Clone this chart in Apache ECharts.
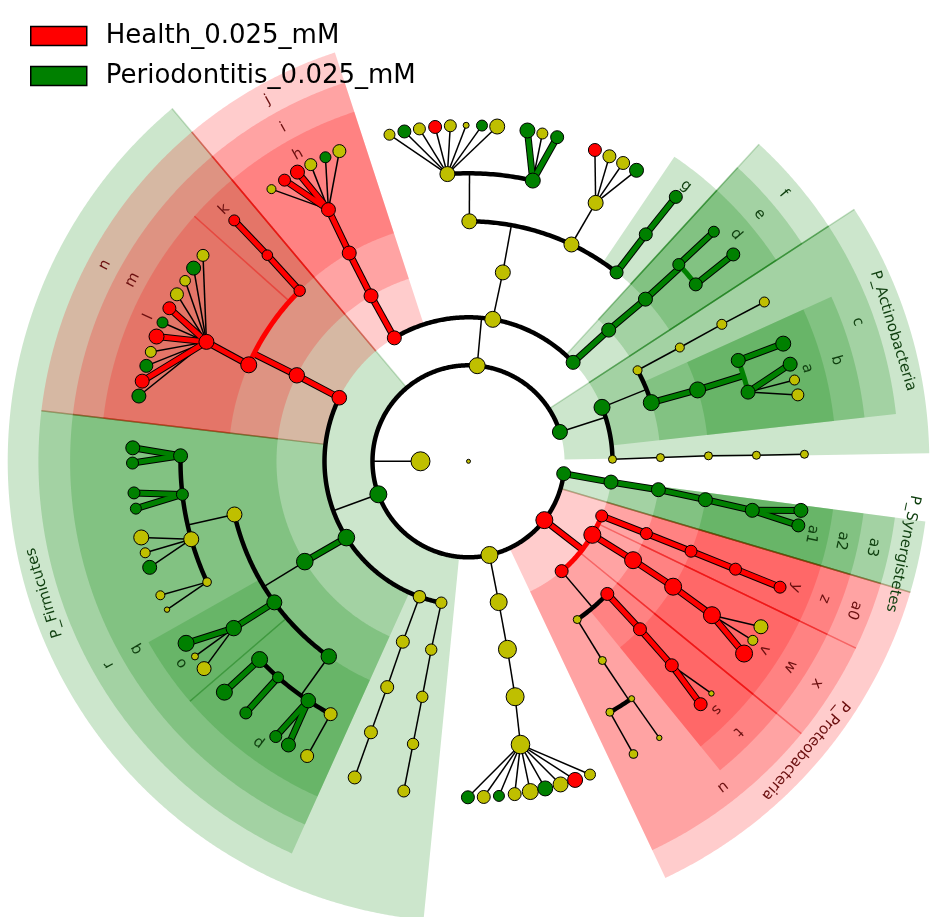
<!DOCTYPE html>
<html><head><meta charset="utf-8">
<script src="https://cdn.jsdelivr.net/npm/echarts@6/dist/echarts.min.js"></script>
<style>html,body{margin:0;padding:0;background:#fff}#c{width:930px;height:917px}</style>
</head><body><div id="c"></div>
<script>
// ---------------- DATA ----------------
const classNames = ['Health_0.025_mM', 'Periodontitis_0.025_mM'];
const classKeys = ['r', 'g'];            // r = Health, g = Periodontitis, y = not significant
const classColors = { r: '#ff0000', g: '#008000', y: '#bfbf00' };
const labelColors = { r: '#6b0f0f', g: '#0f3f0f' };

// [id, parentId, angle(deg), level, class, nodeRadius]
const nodesBackbone = [
  ['root', null, 0, 0, 'y', 2],
  ['bac', null, 180, 1, 'y', 9.5],
  ['act', 'bac', 17.8, 2, 'g', 7.5],
  ['top', 'bac', 84.8, 2, 'y', 8],
  ['fir', 'bac', 200.1, 2, 'g', 8.5],
  ['bot', 'bac', 282.6, 2, 'y', 8.5],
  ['pro', 'bac', 322.2, 2, 'r', 8.5],
  ['syn', 'bac', 352.6, 2, 'g', 7]
];
const nodesTop = [
  ['t1','top',43.4,3,'g',7], ['t1a','t1',43.1,4,'g',7], ['t1b','t1a',42.5,5,'g',7],
  ['t1c','t1b',43.1,6,'g',6], ['t1d','t1b',37.9,6,'g',6.5],
  ['t1c1','t1c',43.1,7,'g',5.5], ['t1d1','t1d',38.0,7,'g',6.5],
  ['t2','top',80.3,3,'y',8], ['t2a','t2',79.7,4,'y',7.5],
  ['t2b','t2a',89.8,5,'y',7.5], ['t2c','t2a',64.6,5,'y',7.5], ['t2d','t2a',51.9,5,'g',6.5],
  ['t2e','t2b',94.2,6,'y',7.5], ['t2f','t2b',77.1,6,'g',7.5], ['t2g','t2c',63.8,6,'y',7.5],
  ['t2h','t2d',52.0,6,'g',6.5], ['t2h1','t2h',51.9,7,'g',6.5],
  ['t3','top',121.0,3,'r',7], ['t3a','t3',120.5,4,'r',7], ['t3b','t3a',119.8,5,'r',7], ['t3c','t3b',119.1,6,'r',7]
];
const nodesActino = [
  ['a1','act',22.0,3,'g',8],
  ['a1a','a1',28.3,4,'y',4.5], ['a1a1','a1a',28.3,5,'y',4.5], ['a1a2','a1a1',28.4,6,'y',5], ['a1a3','a1a2',28.3,7,'y',5],
  ['a1b','a1',17.8,4,'g',8], ['a1c','a1b',17.3,5,'g',8],
  ['a1d','a1c',20.5,6,'g',7], ['a1d1','a1d',20.5,7,'g',7.5], ['a1e','a1c',13.9,6,'g',7],
  ['a2','act',0.8,3,'y',4], ['a2a','a2',1.1,4,'y',4], ['a2b','a2a',1.3,5,'y',4], ['a2c','a2b',1.2,6,'y',4], ['a2d','a2c',1.2,7,'y',4]
];
const nodesSyn = [
  ['s1','syn',351.7,3,'g',7], ['s2','s1',351.5,4,'g',7], ['s3','s2',350.8,5,'g',7], ['s4','s3',350.2,6,'g',7]
];
const nodesProteo = [
  ['r1','pro',337.7,3,'r',6], ['r1a','r1',337.9,4,'r',6], ['r1b','r1a',338.0,5,'r',6], ['r1c','r1b',338.0,6,'r',6], ['r1d','r1c',338.0,7,'r',6],
  ['r2','pro',329.3,3,'r',8.5], ['r2a','r2',329.0,4,'r',8.5], ['r2b','r2a',328.5,5,'r',8.5], ['r2c','r2b',327.7,6,'r',8.5],
  ['r3','pro',310.3,3,'r',6.5], ['r3a','r3',304.5,4,'y',4], ['r3a1','r3a',303.9,5,'y',4],
  ['r3a2','r3a1',304.5,6,'y',3], ['r3a3','r3a1',299.4,6,'y',4], ['r3a4','r3a2',304.6,7,'y',2.7], ['r3a5','r3a3',299.4,7,'y',4.3],
  ['r3b','r3',316.3,4,'r',6.5], ['r3b1','r3b',315.6,5,'r',6.5], ['r3b2','r3b1',314.9,6,'r',6.5]
];
const nodesBottom = [
  ['b1','bot',282.1,3,'y',8.5], ['b2','b1',281.7,4,'y',9], ['b3','b2',281.2,5,'y',9], ['b4','b3',280.4,6,'y',9.3]
];
const nodesFirm = [
  ['f1','fir',153.8,3,'r',7.3], ['f1a','f1',153.4,4,'r',7.7], ['f1b','f1a',156.3,5,'r',8], ['f1c','f1a',134.7,5,'r',5.7],
  ['f1d','f1b',155.5,6,'r',7.5], ['f1e','f1c',134.3,6,'r',5.3], ['f1f','f1e',134.2,7,'r',5.5],
  ['f2','fir',212.0,3,'g',8.3], ['f2a','f2',211.5,4,'g',8.3],
  ['f2b','f2a',192.8,5,'y',7.5], ['f2c','f2a',216.0,5,'g',7.5], ['f2d','f2a',234.4,5,'g',7.7],
  ['f2b1','f2b',178.9,6,'g',7], ['f2b2','f2b',186.6,6,'g',6], ['f2b3','f2b',195.7,6,'y',7.5], ['f2b4','f2b',204.8,6,'y',4.3],
  ['f2c1','f2c',215.4,6,'g',7.7],
  ['f2d1','f2d',223.5,6,'g',8], ['f2d2','f2d',228.6,6,'g',5.5], ['f2d3','f2d',236.2,6,'g',7.3], ['f2d4','f2d',241.4,6,'y',6.5],
  ['f3','fir',250.1,3,'y',6.3], ['f3a','f3',250.0,4,'y',6.5], ['f3b','f3a',250.2,5,'y',6.5], ['f3c','f3b',250.2,6,'y',6.5], ['f3d','f3c',250.2,7,'y',6.5],
  ['f4','fir',259.1,3,'y',5.7], ['f4a','f4',258.8,4,'y',5.7], ['f4b','f4a',258.9,5,'y',5.7], ['f4c','f4b',258.9,6,'y',5.7], ['f4d','f4c',258.9,7,'y',6]
];

// species-level fans: [angle, class, nodeRadius]
const fanT2e = [[103.6,'y',5.5],[101.0,'g',6.5],[98.4,'y',6],[95.7,'r',6.5],[93.1,'y',6],[90.4,'y',3],[87.7,'g',5.5],[85.1,'y',7.5]];
const fanT2f = [[79.9,'g',7.5],[77.3,'y',5.5],[74.7,'g',6.5]];
const fanT2g = [[67.9,'r',6.5],[65.2,'y',6.5],[62.6,'y',6.5],[60.0,'g',7]];
const fanT3c = [[125.9,'y',4.5],[123.2,'r',6],[120.6,'r',7],[118.0,'y',6],[115.2,'g',5.5],[112.6,'y',6.5]];
const fanA1e = [[16.8,'g',7],[14.0,'y',5],[11.4,'y',6]];
const fanS4 = [[351.6,'g',7],[349.0,'g',6.5]];
const fanR2c = [[325.1,'r',8.5],[327.8,'y',5],[330.5,'y',7]];
const fanR3b2 = [[313.7,'r',6.5],[316.3,'y',2.7]];
const fanB4 = [[269.9,'g',6.5],[272.6,'y',6.5],[275.2,'g',5.5],[277.9,'y',6.5],[280.6,'y',8],[283.2,'g',7.5],[285.9,'y',7.5],[288.5,'r',7.5],[291.2,'y',5.5]];
const fanF1d = [[142.2,'y',6],[144.9,'g',7],[147.5,'y',5.3],[150.2,'y',6.5],[152.9,'r',6.5],[155.6,'g',5.5],[158.2,'r',7.5],[161.0,'y',5.5],[163.5,'g',6.5],[166.2,'r',7],[168.8,'g',7]];
const fanF2b1 = [[177.7,'g',7],[180.3,'g',6]];
const fanF2b2 = [[185.4,'g',6],[188.1,'g',5.5]];
const fanF2b3 = [[193.1,'y',7.5],[195.8,'y',5],[198.4,'g',7]];
const fanF2b4 = [[203.5,'y',4.5],[206.2,'y',2.7]];
const fanF2c1 = [[212.8,'g',8],[215.5,'y',3.5],[218.1,'y',7]];
const fanF2d1 = [[223.4,'g',8]];
const fanF2d2 = [[228.5,'g',6]];
const fanF2d3 = [[235.0,'g',6],[237.6,'g',7]];
const fanF2d4 = [[241.3,'y',6.5]];
const speciesFans = [
  ['t2e',fanT2e],['t2f',fanT2f],['t2g',fanT2g],['t3c',fanT3c],['a1e',fanA1e],['s4',fanS4],
  ['r2c',fanR2c],['r3b2',fanR3b2],['b4',fanB4],['f1d',fanF1d],['f2b1',fanF2b1],['f2b2',fanF2b2],
  ['f2b3',fanF2b3],['f2b4',fanF2b4],['f2c1',fanF2c1],['f2d1',fanF2d1],['f2d2',fanF2d2],['f2d3',fanF2d3],['f2d4',fanF2d4]
];

// shaded clades: [label, class, level, fromAngle, toAngle]
const cladeShading = [
  ['P_Actinobacteria','g',2,1.0,33.15], ['P_Firmicutes','g',2,130.05,264.4],
  ['P_Proteobacteria','r',2,295.3,343.5], ['P_Synergistetes','g',2,343.5,352.5],
  ['c','g',3,6.3,33.15], ['f','g',3,33.15,47.5], ['j','r',3,108.1,130.05], ['n','r',3,130.05,173.25],
  ['r','g',3,173.25,245.75], ['u','r',3,295.3,320.7], ['x','r',3,320.7,334.25], ['a0','r',3,334.25,343.5], ['a3','g',3,343.5,352.5],
  ['b','g',4,6.3,24.4], ['e','g',4,33.15,47.5], ['i','r',4,108.1,130.05], ['m','r',4,130.05,173.25],
  ['q','g',4,173.25,245.75], ['t','r',4,309.15,320.7], ['w','r',4,320.7,334.25], ['z','r',4,334.25,343.5], ['a2','g',4,343.5,352.5],
  ['a','g',5,6.3,24.4], ['d','g',5,33.15,47.5], ['g','g',5,47.5,55.95], ['h','r',5,108.1,130.05],
  ['k','r',5,130.05,138.2], ['l','r',5,138.2,173.25], ['o','g',5,209.5,220.75], ['p','g',5,220.75,245.75],
  ['s','r',5,309.15,320.7], ['v','r',5,320.7,334.25], ['y','r',5,334.25,343.5], ['a1','g',5,343.5,352.5]
];
const shadeOuter = { 2: 9.6, 3: 8.96, 4: 8.3, 5: 7.66 };   // in level units
const labelInset = 0.35;

// ---------------- BUILD ----------------
const nodes = [];
[nodesBackbone, nodesTop, nodesActino, nodesSyn, nodesProteo, nodesBottom, nodesFirm].forEach(arr =>
  arr.forEach(a => nodes.push({ id: a[0], parent: a[1], angle: a[2], level: a[3], c: a[4], size: a[5] })));
speciesFans.forEach(([pid, list]) => list.forEach((l, i) =>
  nodes.push({ id: pid + '_' + i, parent: pid, angle: l[0], level: 7, c: l[1], size: l[2] })));
const byId = {}; nodes.forEach(n => byId[n.id] = n);
const kids = {}; nodes.forEach(n => { if (n.parent) (kids[n.parent] = kids[n.parent] || []).push(n); });

const THIN = 1.5, ARC = 4.5, COL = 5;
const edges = [];
Object.keys(kids).forEach(pid => {
  const p = byId[pid], ch = kids[pid];
  const pc = p.c !== 'y' ? p.c : null;
  if (ch.length === 1 || ch[0].level === 7) {
    ch.forEach(c => {
      const col = !!pc && c.c === pc;
      edges.push({ pts: [[p.level, p.angle], [c.level, c.angle]], color: col ? classColors[pc] : '#000', w: col ? COL : THIN, colored: col, outline: col });
    });
    return;
  }
  const same = !!pc && ch.every(c => c.c === pc);
  const rc = ch[0].level;
  edges.push({ pts: [[p.level, p.angle], [rc, p.angle]], color: same ? classColors[pc] : '#000', w: same ? COL : THIN, colored: same, outline: same });
  const angs = ch.map(c => c.angle).concat([p.angle]);
  const a0 = Math.min.apply(null, angs), a1 = Math.max.apply(null, angs);
  const pts = [];
  for (let a = a0; a < a1; a += 0.5) pts.push([rc, a]);
  pts.push([rc, a1]);
  edges.push({ pts, color: same ? classColors[pc] : '#000', w: same ? COL : ARC, colored: same, outline: false });
});

// which shading sides touch a neighbouring shaded clade
function sharedSide(idx, ang, isStart) {
  return cladeShading.some((w, j) => j !== idx && Math.abs((isStart ? w[4] : w[3]) - ang) < 0.01);
}

// ---------------- CHART ----------------
const chart = echarts.init(document.getElementById('c'));

function renderShade(params, api) {
  const w = cladeShading[params.dataIndex];
  const c = w[1], lev = w[2], from = w[3], to = w[4];
  const rOut = shadeOuter[lev], rIn = lev;
  const outer = [], inner = [];
  for (let a = from; a < to; a += 0.25) { outer.push(api.coord([rOut, a])); inner.push(api.coord([rIn, a])); }
  outer.push(api.coord([rOut, to])); inner.push(api.coord([rIn, to]));
  const poly = outer.concat(inner.slice().reverse());
  const fill = c === 'g' ? 'rgba(0,128,0,0.2)' : 'rgba(255,0,0,0.2)';
  const edge = c === 'g' ? 'rgba(0,110,0,0.22)' : 'rgba(230,0,0,0.22)';
  const kids2 = [{ type: 'polygon', shape: { points: poly }, style: { fill: fill, stroke: null } }];
  if (sharedSide(params.dataIndex, from, true))
    kids2.push({ type: 'polyline', shape: { points: [inner[0], outer[0]] }, style: { stroke: edge, lineWidth: 1.5, fill: null } });
  if (sharedSide(params.dataIndex, to, false))
    kids2.push({ type: 'polyline', shape: { points: [inner[inner.length - 1], outer[outer.length - 1]] }, style: { stroke: edge, lineWidth: 1.5, fill: null } });
  return { type: 'group', children: kids2 };
}
function renderLabel(params, api) {
  const w = cladeShading[params.dataIndex];
  const mid = (w[3] + w[4]) / 2;
  const p = api.coord([shadeOuter[w[2]] - labelInset, mid]);
  return { type: 'text', x: p[0], y: p[1], rotation: (mid - 90) * Math.PI / 180,
    style: { text: w[0], x: 0, y: 0, align: 'center', verticalAlign: 'middle',
      fontSize: 15, fontFamily: 'DejaVu Sans', fill: labelColors[w[1]] } };
}
function renderEdgeBase(params, api) {
  const e = edges[params.dataIndex];
  if (e.colored && !e.outline) return { type: 'group', children: [] };
  const pts = e.pts.map(p => api.coord(p));
  return { type: 'polyline', shape: { points: pts },
    style: { stroke: '#000', lineWidth: e.outline ? e.w + 2 : e.w, fill: null, lineJoin: 'round' } };
}
function renderEdgeColor(params, api) {
  const e = edges[params.dataIndex];
  if (!e.colored) return { type: 'group', children: [] };
  const pts = e.pts.map(p => api.coord(p));
  return { type: 'polyline', shape: { points: pts },
    style: { stroke: e.color, lineWidth: e.w, fill: null, lineJoin: 'round' } };
}

const option = {
  animation: false,
  backgroundColor: '#fff',
  polar: { center: [468.5, 461.3], radius: 460.8 },
  angleAxis: { type: 'value', min: 0, max: 360, startAngle: 0, clockwise: false,
    axisLine: { show: false }, axisTick: { show: false }, axisLabel: { show: false }, splitLine: { show: false } },
  radiusAxis: { type: 'value', min: 0, max: 9.6,
    axisLine: { show: false }, axisTick: { show: false }, axisLabel: { show: false }, splitLine: { show: false } },
  legend: {
    data: classNames.map(n => ({ name: n, icon: 'rect' })),
    orient: 'vertical', left: 30, top: 23, padding: 0,
    itemWidth: 56, itemHeight: 19, itemGap: 14, selectedMode: false,
    itemStyle: { borderColor: '#000', borderWidth: 1.5, opacity: 1 },
    textStyle: { fontFamily: 'DejaVu Sans', fontSize: 26, lineHeight: 26, color: '#000', padding: [0, 0, 0, 14] }
  },
  series: [
    { type: 'custom', coordinateSystem: 'polar', z: 1, silent: true,
      data: cladeShading.map(w => [w[2], w[3]]), renderItem: renderShade },
    { type: 'custom', coordinateSystem: 'polar', z: 2, silent: true,
      data: edges.map(e => e.pts[0]), renderItem: renderEdgeBase },
    { type: 'custom', coordinateSystem: 'polar', z: 3, silent: true,
      data: edges.map(e => e.pts[0]), renderItem: renderEdgeColor },
    { type: 'scatter', coordinateSystem: 'polar', z: 4, silent: true,
      data: nodes.map(n => ({ value: [n.level, n.angle], symbolSize: n.size * 2,
        itemStyle: { color: classColors[n.c] } })),
      itemStyle: { borderColor: '#000', borderWidth: 1, opacity: 1 } },
    { type: 'custom', coordinateSystem: 'polar', z: 5, silent: true,
      data: cladeShading.map(w => [w[2], w[3]]), renderItem: renderLabel },
    { name: classNames[0], type: 'scatter', coordinateSystem: 'polar', data: [], itemStyle: { color: classColors[classKeys[0]], opacity: 1 } },
    { name: classNames[1], type: 'scatter', coordinateSystem: 'polar', data: [], itemStyle: { color: classColors[classKeys[1]], opacity: 1 } }
  ]
};
chart.setOption(option);
</script>
</body></html>
